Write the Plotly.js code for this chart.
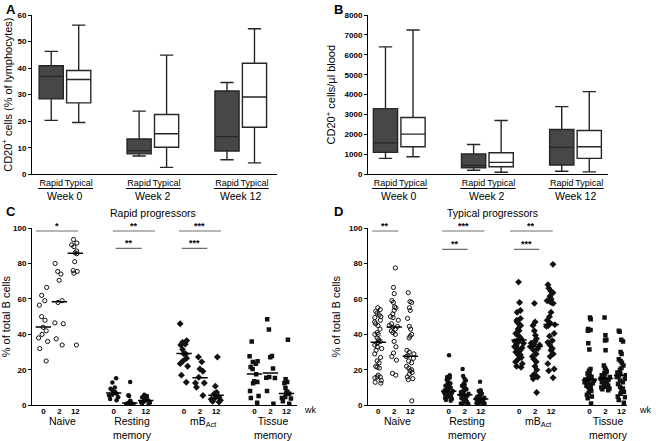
<!DOCTYPE html>
<html><head><meta charset="utf-8">
<script src="https://cdn.plot.ly/plotly-3.0.1.min.js"></script>
<style>html,body{margin:0;padding:0;background:#fff}#chart{width:656px;height:441px}</style>
</head><body><div id="chart"></div>
<script>
// ---------- Panels A/B: box summaries ----------
const weeks = ['Week 0', 'Week 2', 'Week 12'];
const progressorGroups = ['Rapid', 'Typical'];

const pctRapidLow    = [20.3, 6.9, 5.5];
const pctRapidQ1     = [28.4, 7.7, 8.8];
const pctRapidMedian = [36.9, 8.9, 14.2];
const pctRapidQ3     = [40.9, 13.3, 31.4];
const pctRapidHigh   = [46.3, 23.8, 34.6];
const pctTypicalLow    = [19.5, 2.6, 4.3];
const pctTypicalQ1     = [26.9, 10.2, 17.7];
const pctTypicalMedian = [35.7, 15.3, 29.1];
const pctTypicalQ3     = [39.1, 22.5, 41.8];
const pctTypicalHigh   = [56.2, 44.9, 54.8];

const absRapidLow    = [800, 200, 150];
const absRapidQ1     = [1100, 330, 470];
const absRapidMedian = [1580, 450, 1350];
const absRapidQ3     = [3300, 1020, 2250];
const absRapidHigh   = [6400, 1500, 3400];
const absTypicalLow    = [880, 100, 120];
const absTypicalQ1     = [1380, 380, 800];
const absTypicalMedian = [2020, 600, 1380];
const absTypicalQ3     = [2850, 1080, 2200];
const absTypicalHigh   = [7250, 2700, 4150];

// ---------- Panels C/D: individual values (% of total B cells) ----------
const cellTypes = ['Naive', 'Resting<br>memory', 'mB<sub>Act</sub>', 'Tissue<br>memory'];
const timepoints = ['0', '2', '12'];

const rapidNaive = [
  [66.5, 62, 59, 56.5, 50, 48, 44, 42, 40, 38, 36, 32, 25],
  [80, 75.5, 74, 70.5, 59, 58, 46.5, 46, 37.5, 34],
  [93.5, 91.5, 90.5, 89.5, 87, 86, 85.5, 81, 76, 75.5, 74.5, 34]
];
const rapidResting = [
  [15.3, 12.8, 10, 9.3, 8.5, 7.5, 7, 6.5, 6, 5.5, 4.5, 3.5, 2.8],
  [13.2, 5.6, 5.2, 2.6, 2, 1.5, 1.3, 1, 0.8, 0.6, 0.4],
  [6, 5.3, 4.5, 3.8, 3.5, 2.8, 2.5, 2.2, 1.8, 1.5, 1, 0.5]
];
const rapidMbAct = [
  [46, 36.5, 35.5, 34.5, 34, 31.5, 29, 29, 26.5, 25, 23.5, 22, 17, 13],
  [27.2, 24.5, 20.5, 19.2, 15.8, 12.6, 12.6, 10.2, 5.5],
  [27.2, 10.8, 7.3, 6.5, 6, 5.6, 5.2, 4.6, 4, 3.4, 2.8, 2.2, 1.8]
];
const rapidTissue = [
  [36, 27.6, 24.8, 24.4, 23.5, 21.6, 20.5, 17.5, 13.5, 13.2, 12.4, 8.1, 5.3, 4.1, 1.5],
  [48.5, 42.7, 27.8, 27.1, 20.7, 16, 15.6, 15.4, 8.1, 0.9],
  [37, 14.7, 13.2, 12.4, 9.8, 7.7, 7, 6.5, 4.7, 4.1, 3.8, 2.3, 0.9]
];
const rapidMedians = [[44.2, 58.4, 85.8], [7, 1.3, 2.7], [29.2, 15.5, 5.7], [17.7, 18.2, 6.6]];

const typicalNaive = [
  [55, 54, 53, 52, 51, 50, 49.5, 48, 47, 46, 45, 43, 41, 40, 40, 38, 37, 36, 35.5, 35, 34, 33, 32, 31, 29, 27, 25, 24, 22, 21.5, 21, 17, 16, 16, 15.5, 14, 13, 12.5],
  [77.5, 66.5, 63, 59, 58, 55.5, 55, 53.5, 51.5, 50, 49.5, 48, 46, 45, 44.5, 44, 43, 42, 41, 40, 36, 33, 29.5, 27.5, 25.5, 18, 17],
  [63.5, 58.5, 58, 55, 53.5, 49, 44.5, 43, 40, 39, 38, 31, 30, 29, 28, 27.5, 26.5, 25, 24, 22, 21, 20, 19.5, 18.5, 17.5, 16, 15, 14.5, 2.5]
];
const typicalResting = [
  [28.2, 17, 16, 15.5, 14.5, 14, 13, 12.5, 12, 11.5, 11, 10.5, 10, 10, 9.5, 9, 8.5, 8.5, 8, 7.5, 7.5, 7, 7, 6.5, 6, 6, 5.5, 5, 5, 4.5, 4, 3.5, 3, 2.5],
  [20.5, 16.5, 15, 14, 12.5, 11.5, 11, 10, 9.5, 9, 8.5, 8, 7.5, 7, 6.5, 6, 6, 5.5, 5, 4.5, 4, 3.5, 3, 2.5, 2, 1.5, 1, 0.8, 0.5, 0.3],
  [13.3, 8.5, 8, 7.5, 7, 6.5, 6, 5.5, 5, 4.5, 4.2, 4, 3.8, 3.5, 3.3, 3, 2.8, 2.5, 2.2, 2, 1.8, 1.5, 1.2, 1, 0.8, 0.5]
];
const typicalMbAct = [
  [69.5, 58, 53.5, 52.5, 49, 48, 47, 46, 45, 43, 42, 40.5, 39.5, 38.5, 37.5, 37, 36.5, 36, 35.5, 35, 34, 33, 32.5, 32, 31, 30, 29, 28.5, 28, 27, 26, 24.5, 23.5, 22, 21.5],
  [57.5, 47, 45, 42, 39.5, 37.5, 36, 35.5, 35, 34.5, 34, 33.5, 33, 32, 31, 29, 27.5, 26, 24.5, 22, 20, 17.5, 16.5, 16, 15, 7.2],
  [79.5, 68, 66, 64.5, 63.5, 61.5, 60, 59, 58.5, 58, 57.5, 52.5, 50, 48, 46.5, 45.5, 45, 44.5, 40.5, 39, 36.5, 35.5, 34, 32, 31, 29, 27.5, 23.5, 20.5, 19.5, 15.5]
];
const typicalTissue = [
  [49.5, 48.5, 43, 42.5, 42, 35, 31.5, 20.5, 19.5, 18.5, 18, 17, 16.5, 16, 15.5, 15, 14.5, 14.2, 14, 13.5, 13, 12.5, 12, 11.5, 11, 10.5, 10, 9, 8, 7, 6, 5, 4, 1],
  [49.5, 39.5, 37, 36.5, 31, 22.5, 21, 20, 19, 18.5, 18, 17, 16.5, 16, 15.5, 15, 14.5, 14, 13.5, 13, 12.5, 12, 11.5, 11, 10.5, 10, 9.5, 9, 8.5],
  [42, 41.5, 37, 36, 30, 29, 26, 25, 24, 22.5, 21, 20, 18.5, 17.5, 17, 16.5, 16, 15, 14, 13, 12, 10.5, 9.5, 8.5, 7.5, 6.5, 5, 4.5, 3, 1.5]
];
const typicalMedians = [[35.6, 44.2, 27.7], [7.9, 6, 3.5], [36.8, 33.2, 45.6], [14.2, 15.1, 17]];

const rapidSignif = ['*', '**', '**', '***', '***'];
const typicalSignif = ['**', '***', '**', '**', '***'];

// ---------- drawing ----------
const FONT = 'Liberation Sans, Arial, Helvetica, sans-serif';
const W = 656, H = 441;
const px = v => v / W, py = v => 1 - v / H;
const WEEK_STEP = 3.2, CELL_STEP = 4.4;
const boxPos = (w, g) => w * WEEK_STEP + g;
const dotPos = (c, t) => c * CELL_STEP + t;

const traces = [];
function addBoxes(xa, ya, g, lo, q1, med, q3, hi, fill) {
  traces.push({
    type: 'box', xaxis: xa, yaxis: ya, name: progressorGroups[g],
    x: weeks.map((_, w) => boxPos(w, g)),
    lowerfence: lo, q1: q1, median: med, q3: q3, upperfence: hi,
    fillcolor: fill, line: { color: '#262626', width: 1.4 },
    whiskerwidth: 0.55, width: 0.88, boxpoints: false, hoverinfo: 'skip', showlegend: false
  });
}
addBoxes('x', 'y', 0, pctRapidLow, pctRapidQ1, pctRapidMedian, pctRapidQ3, pctRapidHigh, '#474747');
addBoxes('x', 'y', 1, pctTypicalLow, pctTypicalQ1, pctTypicalMedian, pctTypicalQ3, pctTypicalHigh, '#ffffff');
addBoxes('x2', 'y2', 0, absRapidLow, absRapidQ1, absRapidMedian, absRapidQ3, absRapidHigh, '#474747');
addBoxes('x2', 'y2', 1, absTypicalLow, absTypicalQ1, absTypicalMedian, absTypicalQ3, absTypicalHigh, '#ffffff');

const markerStyles = [
  { symbol: 'circle', size: 4.2, color: 'rgba(0,0,0,0)', line: { color: '#111', width: 1 } },
  { symbol: 'circle', size: 4.5, color: '#111', line: { width: 0 } },
  { symbol: 'diamond', size: 5.3, color: '#111', line: { width: 0 } },
  { symbol: 'square', size: 4.5, color: '#111', line: { width: 0 } }
];

function addDots(xa, ya, sets, medians, jitter) {
  sets.forEach((cell, c) => {
    cell.forEach((vals, t) => {
      traces.push({
        type: 'box', xaxis: xa, yaxis: ya, y: vals, x0: dotPos(c, t),
        width: 0.9, boxpoints: 'all', jitter: jitter, pointpos: 0,
        fillcolor: 'rgba(0,0,0,0)', line: { width: 0, color: 'rgba(0,0,0,0)' },
        whiskerwidth: 0, marker: markerStyles[c], hoverinfo: 'skip', showlegend: false
      });
      const m = medians[c][t];
      traces.push({
        type: 'scatter', mode: 'lines', xaxis: xa, yaxis: ya,
        x: [dotPos(c, t) - 0.48, dotPos(c, t) + 0.48], y: [m, m],
        line: { color: '#000', width: 1.5 }, hoverinfo: 'skip', showlegend: false
      });
    });
  });
}
addDots('x3', 'y3', [rapidNaive, rapidResting, rapidMbAct, rapidTissue], rapidMedians, 0.8);
addDots('x4', 'y4', [typicalNaive, typicalResting, typicalMbAct, typicalTissue], typicalMedians, 0.7);

const tickFont = { family: FONT, size: 8, color: '#000', weight: 'bold' };
const yBase = {
  showline: true, linecolor: '#000', linewidth: 1, ticks: 'outside', ticklen: 3, tickwidth: 1,
  tickcolor: '#000', showgrid: false, zeroline: false, tickfont: tickFont, fixedrange: true
};
const xBase = { showline: true, linecolor: '#000', linewidth: 1, ticks: '', showgrid: false, zeroline: false, fixedrange: true, tickangle: 0 };

const boxTickVals = [], boxTickText = [];
weeks.forEach((_, w) => progressorGroups.forEach((gname, g) => { boxTickVals.push(boxPos(w, g)); boxTickText.push(gname); }));
const dotTickVals = [], dotTickText = [];
cellTypes.forEach((_, c) => timepoints.forEach((tp, t) => { dotTickVals.push(dotPos(c, t)); dotTickText.push(tp); }));

const titleFont = { family: FONT, size: 11, color: '#000' };
const groupTickFont = { family: FONT, size: 9, color: '#000' };
const layout = {
  width: W, height: H, margin: { l: 0, r: 0, t: 0, b: 0 }, paper_bgcolor: '#fff', plot_bgcolor: '#fff',
  showlegend: false, boxmode: 'overlay', font: { family: FONT, color: '#000' },
  xaxis: Object.assign({}, xBase, { domain: [px(32), px(277)], range: [-0.70, 8.22], anchor: 'y',
    tickvals: boxTickVals, ticktext: boxTickText, tickfont: groupTickFont }),
  yaxis: Object.assign({}, yBase, { domain: [py(174.3), py(15)], range: [0, 60], dtick: 10, anchor: 'x',
    title: { text: 'CD20<sup>+</sup> cells (% of lymphocytes)', font: titleFont, standoff: 6 } }),
  xaxis2: Object.assign({}, xBase, { domain: [px(368), px(608)], range: [-0.635, 8.08], anchor: 'y2',
    tickvals: boxTickVals, ticktext: boxTickText, tickfont: groupTickFont }),
  yaxis2: Object.assign({}, yBase, { domain: [py(174.3), py(15)], range: [0, 8000], dtick: 1000, anchor: 'x2',
    title: { text: 'CD20<sup>+</sup> cells/µl blood', font: titleFont, standoff: 6 } }),
  xaxis3: Object.assign({}, xBase, { domain: [px(32), px(297)], range: [-0.71, 15.86], anchor: 'y3',
    tickvals: dotTickVals, ticktext: dotTickText, tickfont: tickFont, ticklabelstandoff: -2 }),
  yaxis3: Object.assign({}, yBase, { domain: [py(405.3), py(228)], range: [0, 100], dtick: 20, anchor: 'x3',
    title: { text: '% of total B cells', font: titleFont, standoff: 6 } }),
  xaxis4: Object.assign({}, xBase, { domain: [px(368), px(627)], range: [-0.64, 15.54], anchor: 'y4',
    tickvals: dotTickVals, ticktext: dotTickText, tickfont: tickFont, ticklabelstandoff: -2 }),
  yaxis4: Object.assign({}, yBase, { domain: [py(405.3), py(228)], range: [0, 100], dtick: 20, anchor: 'x4',
    title: { text: '% of total B cells', font: titleFont, standoff: 6 } }),
  annotations: [], shapes: []
};

const ann = layout.annotations, shp = layout.shapes;
// panel letters
[['A', 11, 9], ['B', 338, 9], ['C', 11, 211], ['D', 338, 211]].forEach(([t, x, y]) =>
  ann.push({ text: t, xref: 'paper', yref: 'paper', x: px(x), y: py(y), showarrow: false,
    xanchor: 'center', yanchor: 'middle', font: { family: FONT, size: 13, weight: 'bold', color: '#000' } }));
// panel titles
ann.push({ text: 'Rapid progressors', xref: 'paper', yref: 'paper', x: px(153), y: py(213), showarrow: false,
  xanchor: 'center', yanchor: 'middle', font: { family: FONT, size: 10.5, color: '#000' } });
ann.push({ text: 'Typical progressors', xref: 'paper', yref: 'paper', x: px(492), y: py(213), showarrow: false,
  xanchor: 'center', yanchor: 'middle', font: { family: FONT, size: 10.5, color: '#000' } });
// week labels + underlines
['x', 'x2'].forEach((xr) => {
  weeks.forEach((wk, w) => {
    shp.push({ type: 'line', xref: xr, yref: 'paper', x0: boxPos(w, 0) - 0.48, x1: boxPos(w, 1) + 0.52,
      y0: py(188.5), y1: py(188.5), line: { color: '#000', width: 1 } });
    ann.push({ text: wk, xref: xr, yref: 'paper', x: boxPos(w, 0) + 0.5, y: py(195.5), showarrow: false,
      xanchor: 'center', yanchor: 'middle', font: { family: FONT, size: 10.5, color: '#000' } });
  });
});
// cell type labels + "wk"
['x3', 'x4'].forEach((xr, k) => {
  cellTypes.forEach((ct, c) => ann.push({ text: ct, xref: xr, yref: 'paper', x: dotPos(c, 1) + 0.2, y: py(412.5),
    showarrow: false, xanchor: 'center', yanchor: 'top', font: { family: FONT, size: 10.5, color: '#000' } }));
  ann.push({ text: 'wk', xref: 'paper', yref: 'paper', x: px(k === 0 ? 310 : 645), y: py(409.5), showarrow: false,
    xanchor: 'center', yanchor: 'middle', font: { family: FONT, size: 9, color: '#000' } });
});
// significance bars: [cell index, start offset, end offset, level]
const rapidBars = [[0, -0.46, 2.17, 98.3], [1, -0.06, 2.58, 98.3], [1, 0.12, 1.75, 88.5], [2, -0.32, 2.3, 98.3], [2, -0.15, 1.45, 88.5]];
const typicalBars = [[0, -0.375, 1.25, 98.3], [1, -0.4, 2.23, 98.3], [1, -0.4, 1.19, 88], [2, -0.57, 2.1, 98.3], [2, -0.32, 1.26, 88]];
[[rapidBars, rapidSignif, 'x3', 'y3'], [typicalBars, typicalSignif, 'x4', 'y4']].forEach(([bars, labels, xr, yr]) => {
  bars.forEach(([c, a, b, lvl], i) => {
    const x0 = dotPos(c, 0) + a, x1 = dotPos(c, 0) + b;
    shp.push({ type: 'line', xref: xr, yref: yr, x0: x0, x1: x1, y0: lvl, y1: lvl, line: { color: '#6e6e6e', width: 1.2 } });
    ann.push({ text: labels[i], xref: xr, yref: yr, x: (x0 + x1) / 2, y: lvl, showarrow: false,
      xanchor: 'center', yanchor: 'bottom', yshift: -2, font: { family: FONT, size: 9, weight: 'bold', color: '#000' } });
  });
});

Plotly.newPlot('chart', traces, layout, { staticPlot: true, displayModeBar: false });
</script>
</body></html>
